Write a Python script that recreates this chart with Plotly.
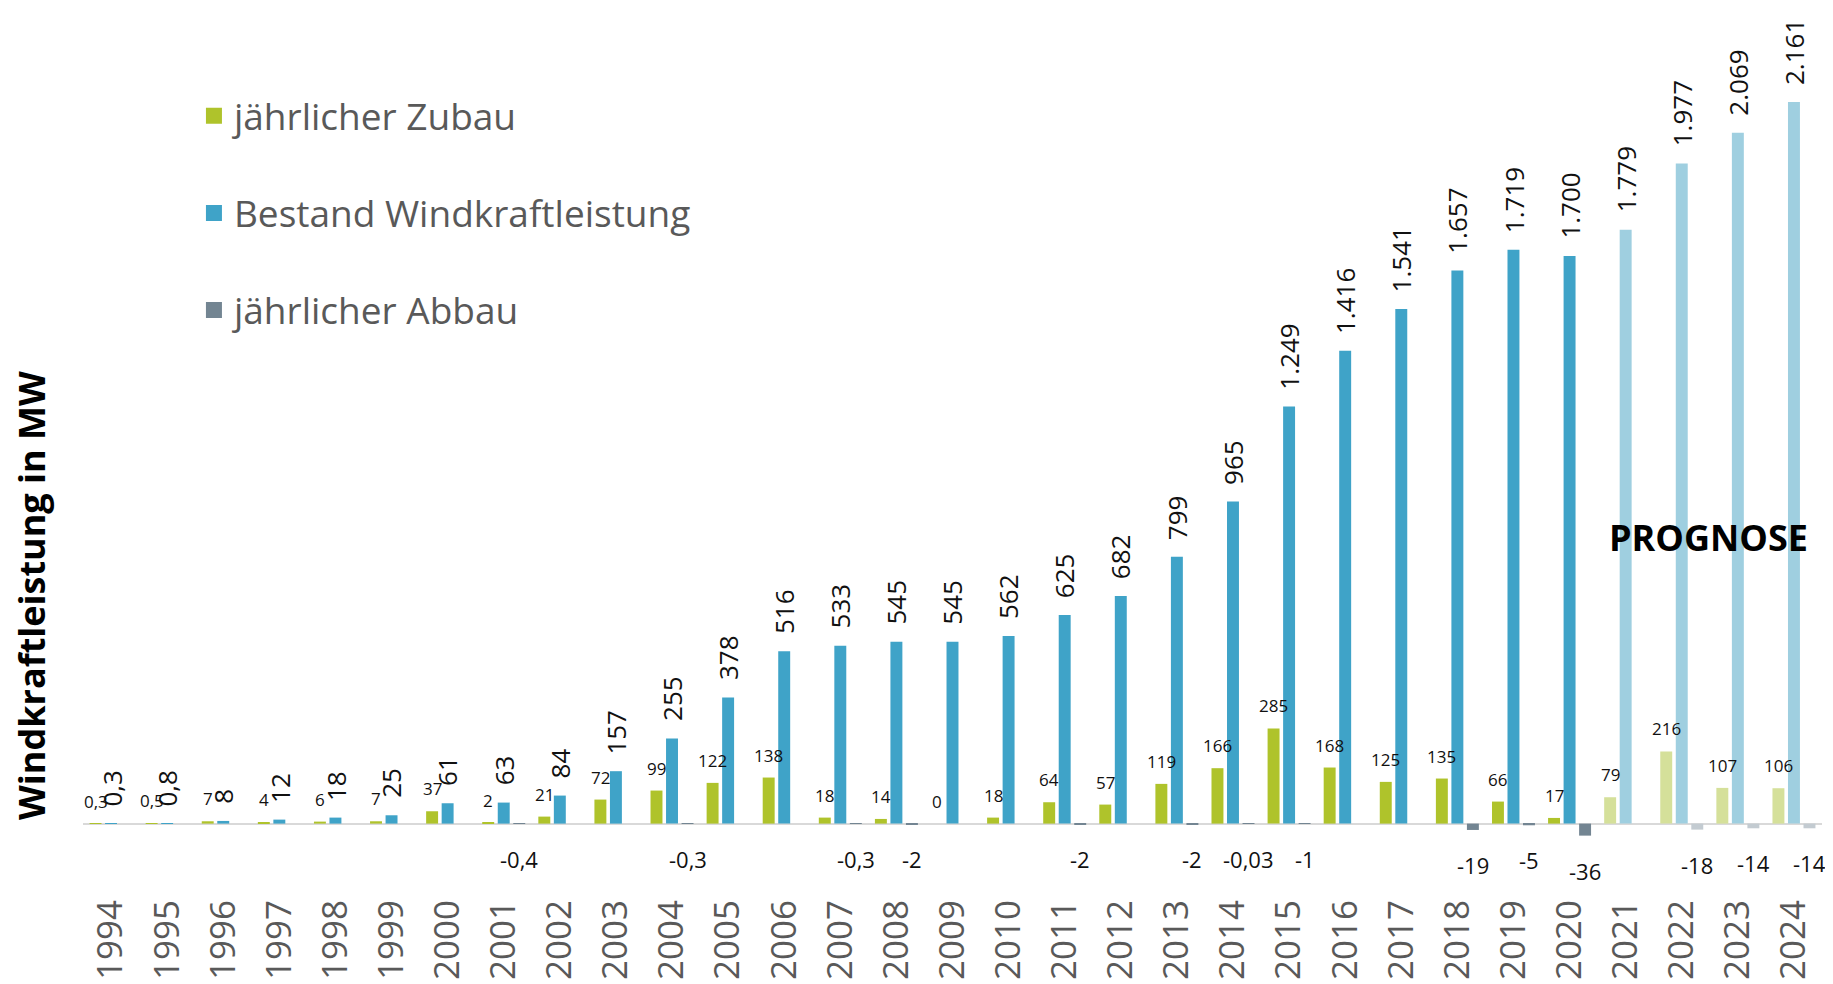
import plotly.graph_objects as go

years = [str(y) for y in range(1994, 2025)]

# jährlicher Zubau (MW)
zubau = [0.3, 0.5, 7, 4, 6, 7, 37, 2, 21, 72, 99, 122, 138, 18, 14, 0,
         18, 64, 57, 119, 166, 285, 168, 125, 135, 66, 17, 79, 216, 107, 106]
# Bestand Windkraftleistung (MW)
bestand = [0.3, 0.8, 8, 12, 18, 25, 61, 63, 84, 157, 255, 378, 516, 533, 545, 545,
           562, 625, 682, 799, 965, 1249, 1416, 1541, 1657, 1719, 1700, 1779, 1977, 2069, 2161]
# jährlicher Abbau (MW)
abbau = [None, None, None, None, None, None, None, -0.4, None, None, -0.3, None, None,
         -0.3, -2, None, None, -2, None, -2, -0.03, -1, None, None, -19, -5, -36,
         None, -18, -14, -14]

prognose_ab = 2021

FONT = "Open Sans"
GREEN, GREEN_L = "#AFC32B", "#D5E09A"
BLUE, BLUE_L = "#3FA3C8", "#9FCFE0"
GREY, GREY_L = "#738592", "#C3CBD1"


def de(v):
    # deutsches Zahlenformat
    if float(v).is_integer():
        return f"{int(v):,}".replace(",", ".")
    return str(v).replace(".", ",")


def cols(c, cl):
    return [cl if int(y) >= prognose_ab else c for y in years]


fig = go.Figure()
fig.add_trace(go.Bar(x=years, y=zubau, marker_color=cols(GREEN, GREEN_L),
                     marker_line_width=0, showlegend=False))
fig.add_trace(go.Bar(x=years, y=bestand, marker_color=cols(BLUE, BLUE_L),
                     marker_line_width=0, showlegend=False))
fig.add_trace(go.Bar(x=years, y=abbau, marker_color=cols(GREY, GREY_L),
                     marker_line_width=0, showlegend=False))

# legend proxies
for i, (name, c) in enumerate([("jährlicher Zubau", GREEN),
                               ("Bestand Windkraftleistung", BLUE),
                               ("jährlicher Abbau", GREY)]):
    fig.add_trace(go.Scatter(x=[None], y=[None], mode="markers", name=name,
                             legendgroup=f"g{i}",
                             marker=dict(symbol="square", size=16, color=c)))

SHIFT = 15.5
ann = []
for i, v in enumerate(zubau):
    ann.append(dict(x=i, y=v, text=de(v), showarrow=False, yanchor="bottom",
                    xshift=-SHIFT, yshift=9, font=dict(size=17, color="#111")))
for i, v in enumerate(bestand):
    ann.append(dict(x=i, y=v, text=de(v), showarrow=False, yanchor="bottom",
                    textangle=-90, yshift=15, font=dict(size=26, color="#111")))
for i, v in enumerate(abbau):
    if v is None:
        continue
    ann.append(dict(x=i, y=v, text=de(v), showarrow=False, yanchor="top",
                    xshift=SHIFT, yshift=-18, font=dict(size=22, color="#111")))

ann.append(dict(xref="paper", yref="paper", x=0.935, y=0.3903, text="<b>PROGNOSE</b>",
                xanchor="center", yanchor="middle",
                showarrow=False, font=dict(size=36, color="#000")))
ann.append(dict(xref="paper", yref="paper", x=-0.0295, y=0.32,
                xanchor="center", yanchor="middle",
                text="<b>Windkraftleistung in MW</b>", textangle=-90,
                showarrow=False, font=dict(size=36, color="#000")))

fig.update_layout(
    width=1833, height=984,
    margin=dict(l=75, r=19, t=31, b=122),
    paper_bgcolor="white", plot_bgcolor="white",
    font=dict(family=FONT, color="#000"),
    barmode="group", bargap=0.17, bargroupgap=0.23,
    annotations=ann,
    legend=dict(x=0.0638, y=0.9434, xanchor="left", yanchor="top",
                traceorder="grouped", tracegroupgap=46, bgcolor="rgba(0,0,0,0)",
                font=dict(size=37, color="#595959")),
)
fig.update_xaxes(type="category", range=[-0.5, 30.5], tickangle=-90, dtick=1,
                 tickfont=dict(size=35, color="#595959"), ticklabelstandoff=35,
                 showline=False, showgrid=False, ticks="")
fig.update_yaxes(range=[-100, 2350], showticklabels=False, showgrid=False,
                 zeroline=True, zerolinecolor="#D9D9D9", zerolinewidth=2)

fig.write_html("out.html")
